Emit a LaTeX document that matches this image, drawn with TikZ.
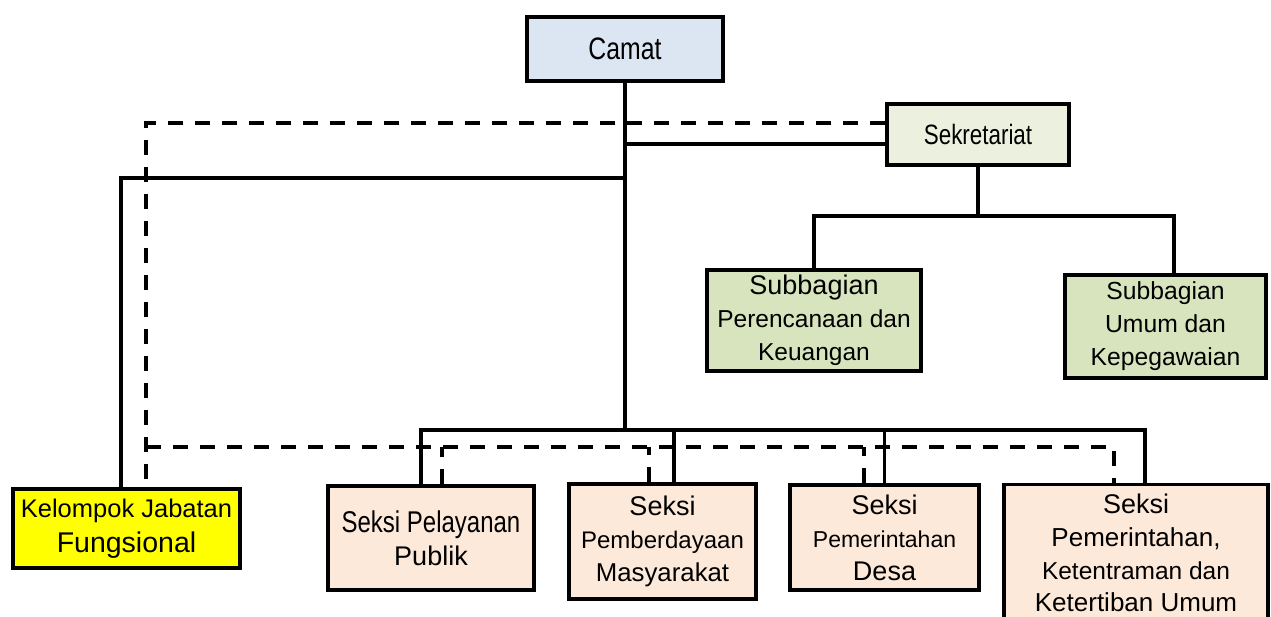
\documentclass[tikz,border=0pt]{standalone}
\usepackage{fontspec}
\setmainfont{Liberation Sans}
\newfontfamily\narrowfont[FakeStretch=0.8]{Liberation Sans}
\usetikzlibrary{positioning,calc}
\definecolor{camatblue}{HTML}{DCE6F2}
\definecolor{sekgreen}{HTML}{EBF1DE}
\definecolor{subgreen}{HTML}{D7E4BD}
\definecolor{seksipeach}{HTML}{FDE9D9}
\definecolor{jfyellow}{HTML}{FFFF00}
\newcommand{\fsz}[1]{\fontsize{#1}{33}\selectfont}
\tikzset{
    orgbox/.style={draw, line width=3.5pt, inner sep=0pt, align=center, font=\fsz{25}},
    link/.style={line width=3.2pt},
    dlink/.style={line width=3.2pt, dash pattern=on 15pt off 12pt}
}

\begin{document}
\begin{tikzpicture}[x=1pt,y=-1pt]
                \useasboundingbox (0,0) rectangle (1271,616);
                \node[orgbox, fill=camatblue, minimum width=196pt, minimum height=64pt] (camat) at (625,49) {\narrowfont\fsz{31}Camat};
                \node[orgbox, fill=sekgreen, minimum width=182pt, minimum height=61pt] (sekre) at (978,134.5) {\narrowfont\fsz{28}Sekretariat};
                \node[orgbox, fill=subgreen, minimum width=214pt, minimum height=101pt] (subpk) at (814,320.5) {{\fsz{27}Subbagian}\\{\fsz{24.5}Perencanaan dan}\\{\fsz{24.5}Keuangan}};
                \node[orgbox, fill=subgreen, minimum width=201pt, minimum height=103pt] (subuk) at (1165.5,326.5) {{\fsz{24.7}Subbagian}\\{\fsz{24.7}Umum dan}\\{\fsz{24.7}Kepegawaian}};
                \node[orgbox, fill=jfyellow, minimum width=227pt, minimum height=79pt] (kjf) at (126.5,528.5) {{\fsz{25.5}Kelompok Jabatan}\\[2pt]{\fsz{28.5}Fungsional}};
                \node[orgbox, fill=seksipeach, minimum width=206pt, minimum height=104pt] (spp) at (431,538) {{\narrowfont\fsz{30}Seksi Pelayanan}\\{\fsz{27}Publik}};
                \node[orgbox, fill=seksipeach, minimum width=187pt, minimum height=115pt] (spm) at (662.5,541.5) {{\fsz{27}Seksi}\\{\fsz{24}Pemberdayaan}\\{\fsz{25.8}Masyarakat}};
                \node[orgbox, fill=seksipeach, minimum width=189pt, minimum height=105pt] (spd) at (884.5,537.5) {{\fsz{27}Seksi}\\{\fsz{23}Pemerintahan}\\{\fsz{27}Desa}};
                \node[orgbox, fill=seksipeach, minimum width=264pt, minimum height=136pt] (sptk) at (1136,552.5) {{\fsz{27}Seksi}\\{\fsz{26}Pemerintahan,}\\{\fsz{24.5}Ketentraman dan}\\[-1pt]{\fsz{26}Ketertiban Umum}};
                \coordinate (bar) at (625,430);
                \coordinate (dbar) at (146,447);
                \coordinate (sbar) at (978,216);
                \coordinate (dtop) at (146,123);
                \coordinate (sk) at (625,144);
                \coordinate (jf) at (625,178);
                \draw[link] (camat.south) -- (bar);
                \draw[link] (sk) -- (sekre.west |- sk);
                \draw[link] (jf) -| ([xshift=-5.5pt]kjf.north);
                \draw[link] ([xshift=-10pt]spp.north) |- (bar) -| ([xshift=9pt]sptk.north);
                \foreach \n/\s in {spm/11.5,spd/0}
                    \draw[link] ([xshift=\s pt]\n.north) coordinate (t) -- (t |- bar);
                \draw[link] (sekre.south) -- (sbar);
                \draw[link] (subpk.north) |- (sbar) -| ([xshift=8.5pt]subuk.north);
                \draw[dlink] (sekre.west |- dtop) -| ([xshift=19.5pt]kjf.north);
                \draw[dlink] (dbar) -| ([xshift=-22pt]sptk.north);
                \foreach \n/\s in {spp/11,spm/-13.5,spd/-20.5}
                    \draw[dlink] ([xshift=\s pt]\n.north) coordinate (t) -- (t |- dbar);
            \end{tikzpicture}
\end{document}
